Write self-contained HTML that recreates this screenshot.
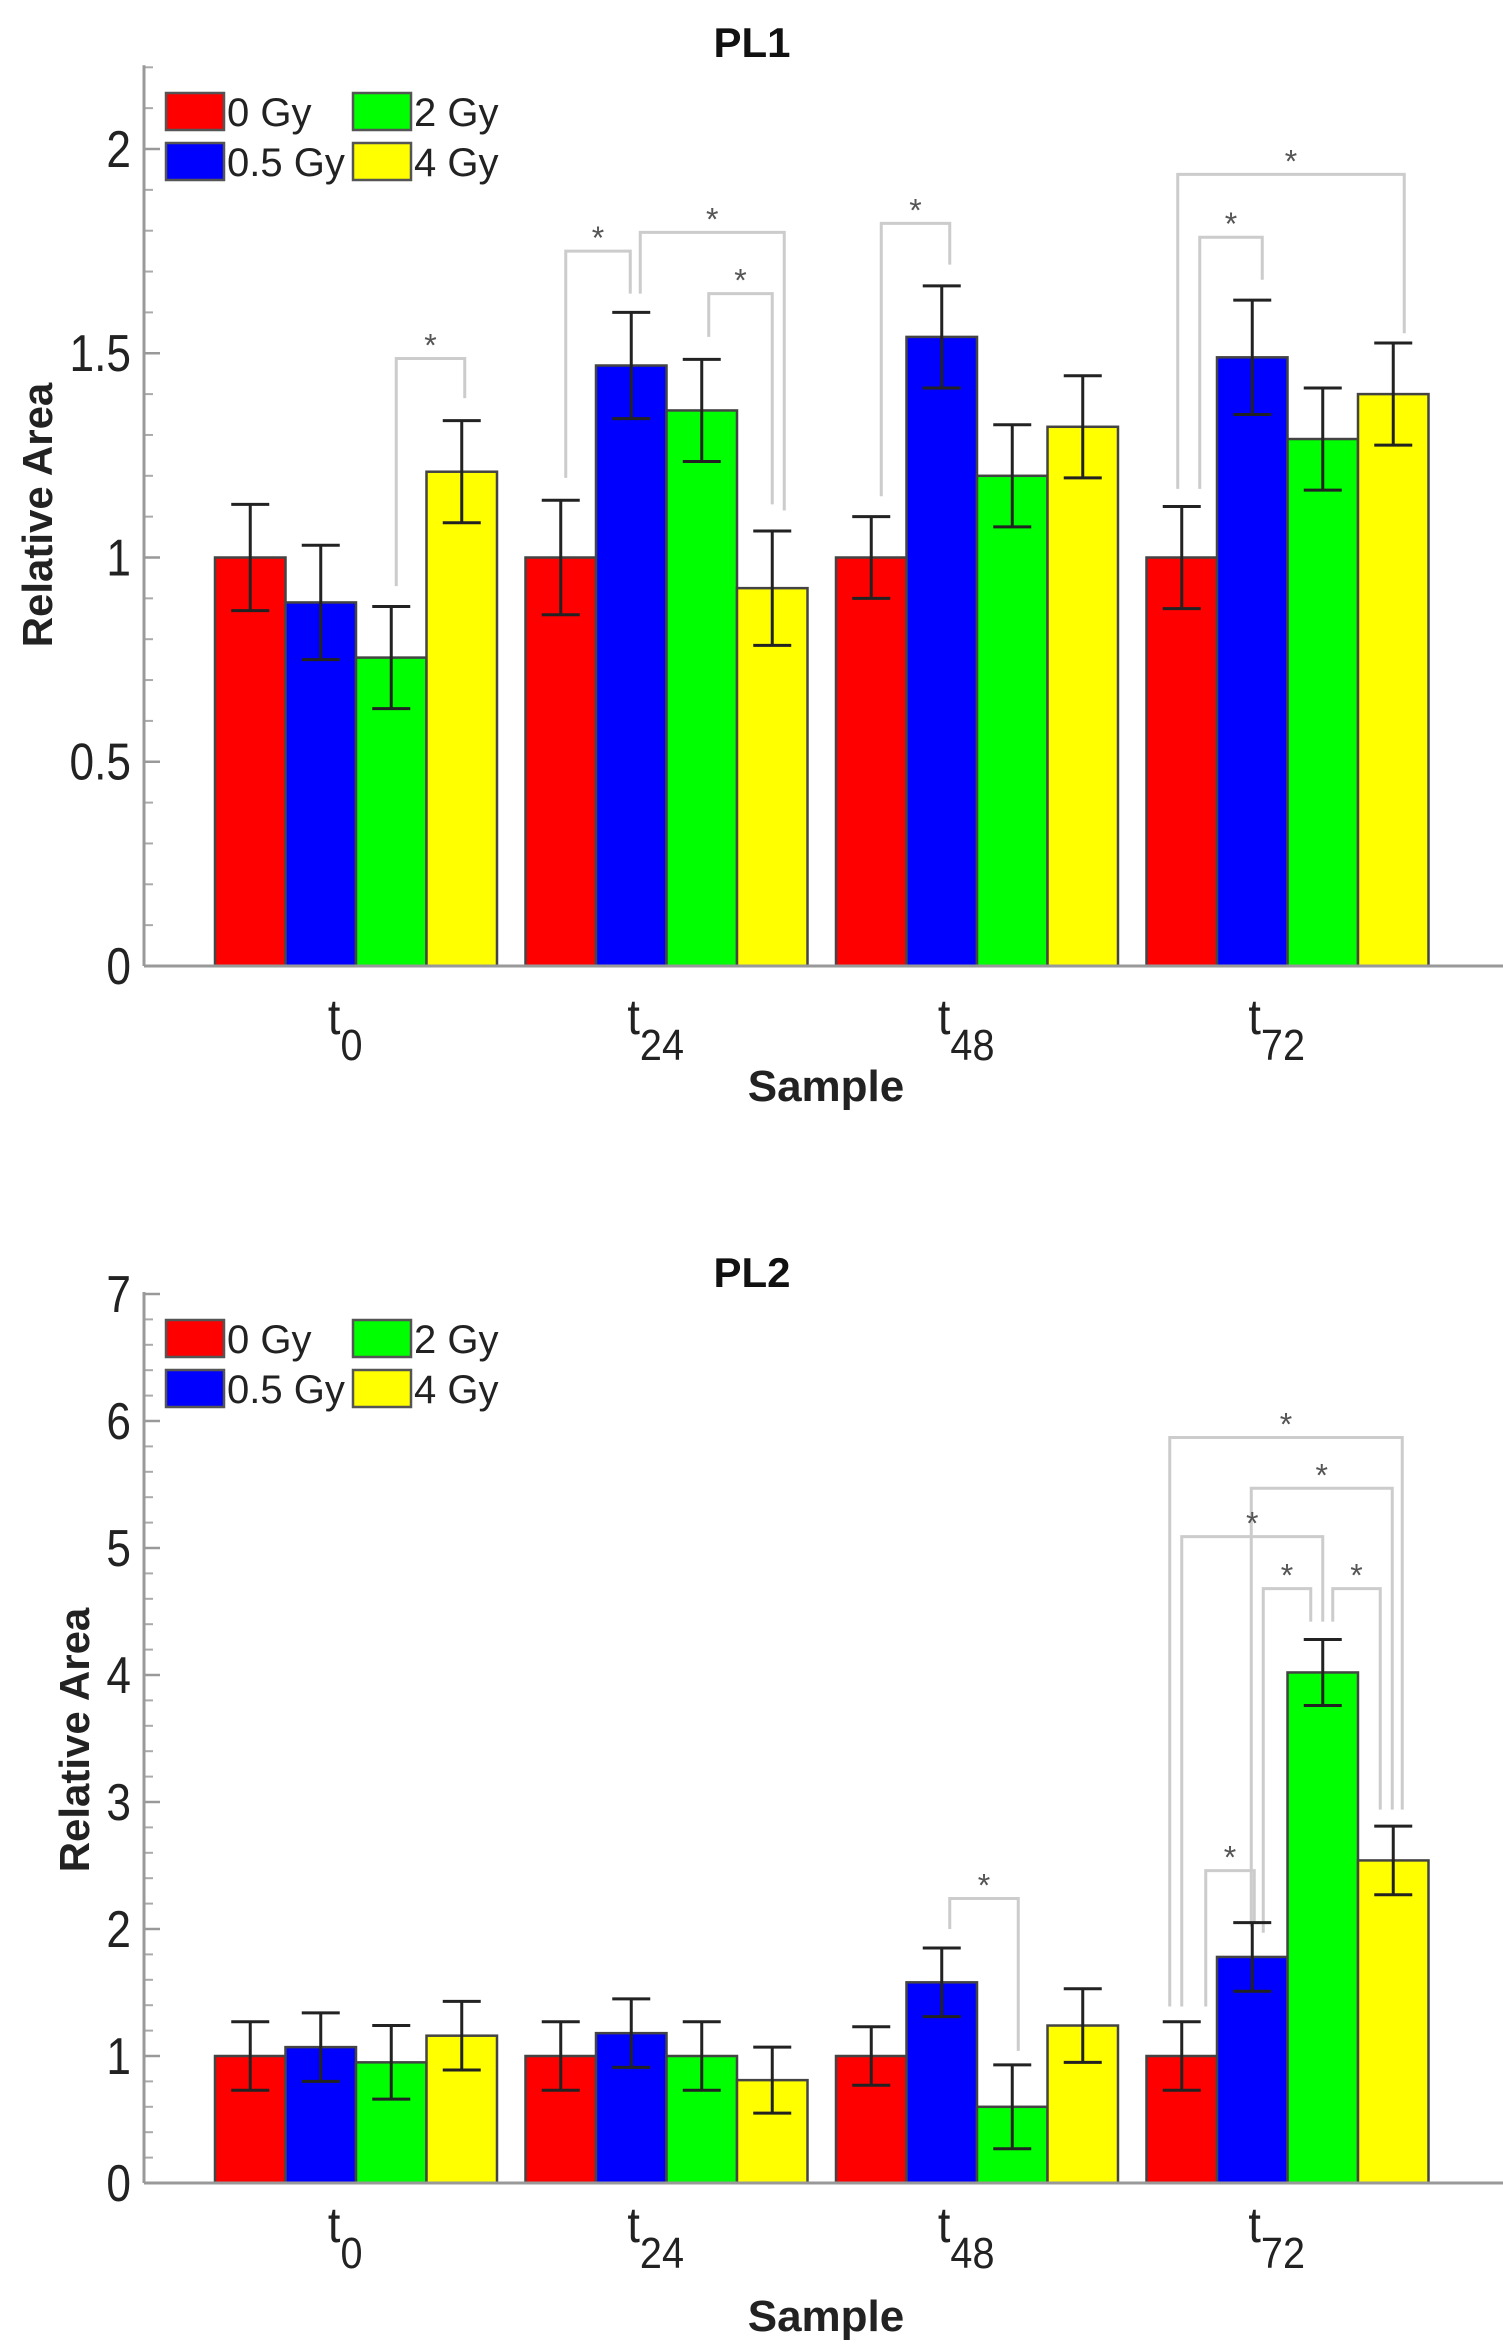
<!DOCTYPE html>
<html><head><meta charset="utf-8"><style>
html,body{margin:0;padding:0;background:#fff;}
svg{display:block;font-family:"Liberation Sans",Arial,sans-serif;}
</style></head><body>
<svg id="fig" width="1503" height="2349" viewBox="0 0 1503 2349" xmlns="http://www.w3.org/2000/svg"></svg>
<script>
const categories = ["0", "24", "48", "72"];
const seriesNames = ["0 Gy", "0.5 Gy", "2 Gy", "4 Gy"];
const colors = ["#ff0000", "#0000ff", "#00ff00", "#ffff00"];
const pl1Values = [[1,0.89,0.755,1.21],[1,1.47,1.36,0.925],[1,1.54,1.2,1.32],[1,1.49,1.29,1.4]];
const pl1Errors = [[0.13,0.14,0.125,0.125],[0.14,0.13,0.125,0.14],[0.1,0.125,0.125,0.125],[0.125,0.14,0.125,0.125]];
const pl2Values = [[1,1.07,0.95,1.16],[1,1.18,1,0.81],[1,1.58,0.6,1.24],[1,1.78,4.02,2.54]];
const pl2Errors = [[0.27,0.27,0.29,0.27],[0.27,0.27,0.27,0.26],[0.23,0.27,0.33,0.29],[0.27,0.27,0.26,0.27]];
const pl1Ticks = [0,0.5,1,1.5,2];
const pl1TickLabels = ["0","0.5","1","1.5","2"];
const pl2Ticks = [0,1,2,3,4,5,6,7];
const pl2TickLabels = ["0","1","2","3","4","5","6","7"];
// brackets: group, barA, dxA, barB, dxB, top value, left-leg bottom value, right-leg bottom value
const pl1Brackets = [
 [0,2,5,3,3,1.487,0.93,1.39],
 [1,0,5,1,-1,1.75,1.195,1.646],
 [1,1,9,3,12,1.796,1.646,1.115],
 [1,2,7,3,0,1.646,1.54,1.13],
 [2,0,10,1,8,1.818,1.15,1.717],
 [3,0,18,1,10,1.784,1.168,1.68],
 [3,0,-4,3,11,1.938,1.168,1.549]
];
const pl2Brackets = [
 [2,1,8,2,6,2.24,2.0,1.04],
 [3,0,24,1,2,2.46,1.39,2.05],
 [3,0,-12,3,9,5.87,1.39,2.94],
 [3,1,-1,3,-1,5.47,2.02,2.94],
 [3,0,0,2,0,5.09,1.39,4.42],
 [3,1,11,2,-12,4.68,1.97,4.42],
 [3,2,10,3,-13,4.68,4.42,2.94]
];

const NS="http://www.w3.org/2000/svg";
const svg=document.getElementById('fig');
function mk(tag,attrs,parent){const e=document.createElementNS(NS,tag);for(const k in attrs)e.setAttribute(k,attrs[k]);(parent||svg).appendChild(e);return e;}

function drawChart(cfg){
  const g=mk('g',{});
  
  
  const axX=144, x0=215, gStep=310.5, bw=70.5;
  const y=v=>cfg.zeroY-(v)*cfg.unit;
  const bx=(gi,bi)=>x0+gi*gStep+bi*bw;
  const bc=(gi,bi)=>bx(gi,bi)+bw/2;
  const t=mk('text',{x:752,y:cfg.titleY,'text-anchor':'middle','font-size':42,'font-weight':'bold',fill:'#111'},g);
  t.textContent=cfg.title;
  
  
  for(let v=0;v<=cfg.max+1e-9;v+=cfg.minor){
    mk('line',{x1:axX,x2:axX+9,y1:y(v),y2:y(v),stroke:'#aaa','stroke-width':2},g);
  }
  cfg.ticks.forEach((v,i)=>{
    mk('line',{x1:axX,x2:axX+16,y1:y(v),y2:y(v),stroke:'#999','stroke-width':2.5},g);
    const l=mk('text',{x:131,y:y(v)+18,'text-anchor':'end','font-size':52,fill:'#222',transform:`translate(131 0) scale(0.85 1) translate(-131 0)`},g);
    l.textContent=cfg.tickLabels[i];
    
    
  });
  const ya=mk('line',{x1:axX,x2:axX,y1:y(cfg.max)-2,y2:cfg.zeroY,stroke:'#999','stroke-width':3},g);
  
  
  cfg.brackets.forEach(b=>{
    const [gi,a,da,c,dc,top,lb,rb]=b;
    const xa=bc(gi,a)+da, xc=bc(gi,c)+dc;
    const p=mk('path',{d:`M${xa} ${y(lb)} V${y(top)} H${xc} V${y(rb)}`,fill:'none',stroke:'#ccc','stroke-width':3},g);
    
    
    const s=mk('text',{x:(xa+xc)/2,y:y(top)-2,'text-anchor':'middle','font-size':32,fill:'#555'},g);
    s.textContent='*';
    
    
  });
  cfg.values.forEach((row,gi)=>{
    row.forEach((v,bi)=>{
      const r=mk('rect',{x:bx(gi,bi),y:y(v),width:bw,height:cfg.zeroY-y(v),fill:colors[bi],stroke:'#444','stroke-width':2.5},g);
      
      
    });
  });
  cfg.values.forEach((row,gi)=>{
    row.forEach((v,bi)=>{
      const e=cfg.errors[gi][bi], cx=bc(gi,bi);
      const eb=mk('path',{d:`M${cx} ${y(v+e)} V${y(v-e)} M${cx-19} ${y(v+e)} H${cx+19} M${cx-19} ${y(v-e)} H${cx+19}`,stroke:'#222','stroke-width':3,fill:'none'},g);
      
      
    });
  });
  const xa=mk('line',{x1:axX,x2:1503,y1:cfg.zeroY,y2:cfg.zeroY,stroke:'#999','stroke-width':3},g);
  
  
  categories.forEach((c,gi)=>{
    const cx=x0+gi*gStep+2*bw;
    const tx=mk('text',{x:cx-12,y:cfg.xLabY,'text-anchor':'middle','font-size':50,fill:'#222',transform:`translate(${cx} 0) scale(0.9 1) translate(${-cx} 0)`},g);
    tx.textContent='t';
    const sub=mk('tspan',{dy:26,'font-size':44},tx);
    sub.textContent=c;
    
    
  });
  const xt=mk('text',{x:826,y:cfg.sampleY,'text-anchor':'middle','font-size':44,'font-weight':'bold',fill:'#222'},g);
  xt.textContent='Sample';
  
  
  const yt=mk('text',{x:0,y:0,'text-anchor':'middle','font-size':42,'font-weight':'bold',fill:'#222',transform:`translate(${cfg.ylX} ${cfg.ylY}) rotate(-90)`},g);
  yt.textContent='Relative Area';
  
  
  const lg=mk('g',{},g);
  
  
  const order=[0,2,1,3];
  order.forEach((si,k)=>{
    const col=k%2, row=Math.floor(k/2);
    const lx=166+col*187, ly=cfg.legY+row*50;
    const ent=mk('g',{},lg);
    
    
    mk('rect',{x:lx,y:ly,width:58,height:37,fill:colors[si],stroke:'#555','stroke-width':2.5},ent);
    const tt=mk('text',{x:lx+61,y:ly+33,'font-size':40,fill:'#222'},ent);
    tt.textContent=seriesNames[si];
  });
}
drawChart({id:'pl1',title:'PL1',titleY:57,zeroY:966,unit:408.5,max:2.2,minor:0.1,ticks:pl1Ticks,tickLabels:pl1TickLabels,values:pl1Values,errors:pl1Errors,brackets:pl1Brackets,xLabY:1034,sampleY:1101,ylX:52,ylY:515,legY:93});
drawChart({id:'pl2',title:'PL2',titleY:1287,zeroY:2183,unit:127,max:7,minor:0.2,ticks:pl2Ticks,tickLabels:pl2TickLabels,values:pl2Values,errors:pl2Errors,brackets:pl2Brackets,xLabY:2242,sampleY:2331,ylX:89,ylY:1740,legY:1320});
</script>
</body></html>
